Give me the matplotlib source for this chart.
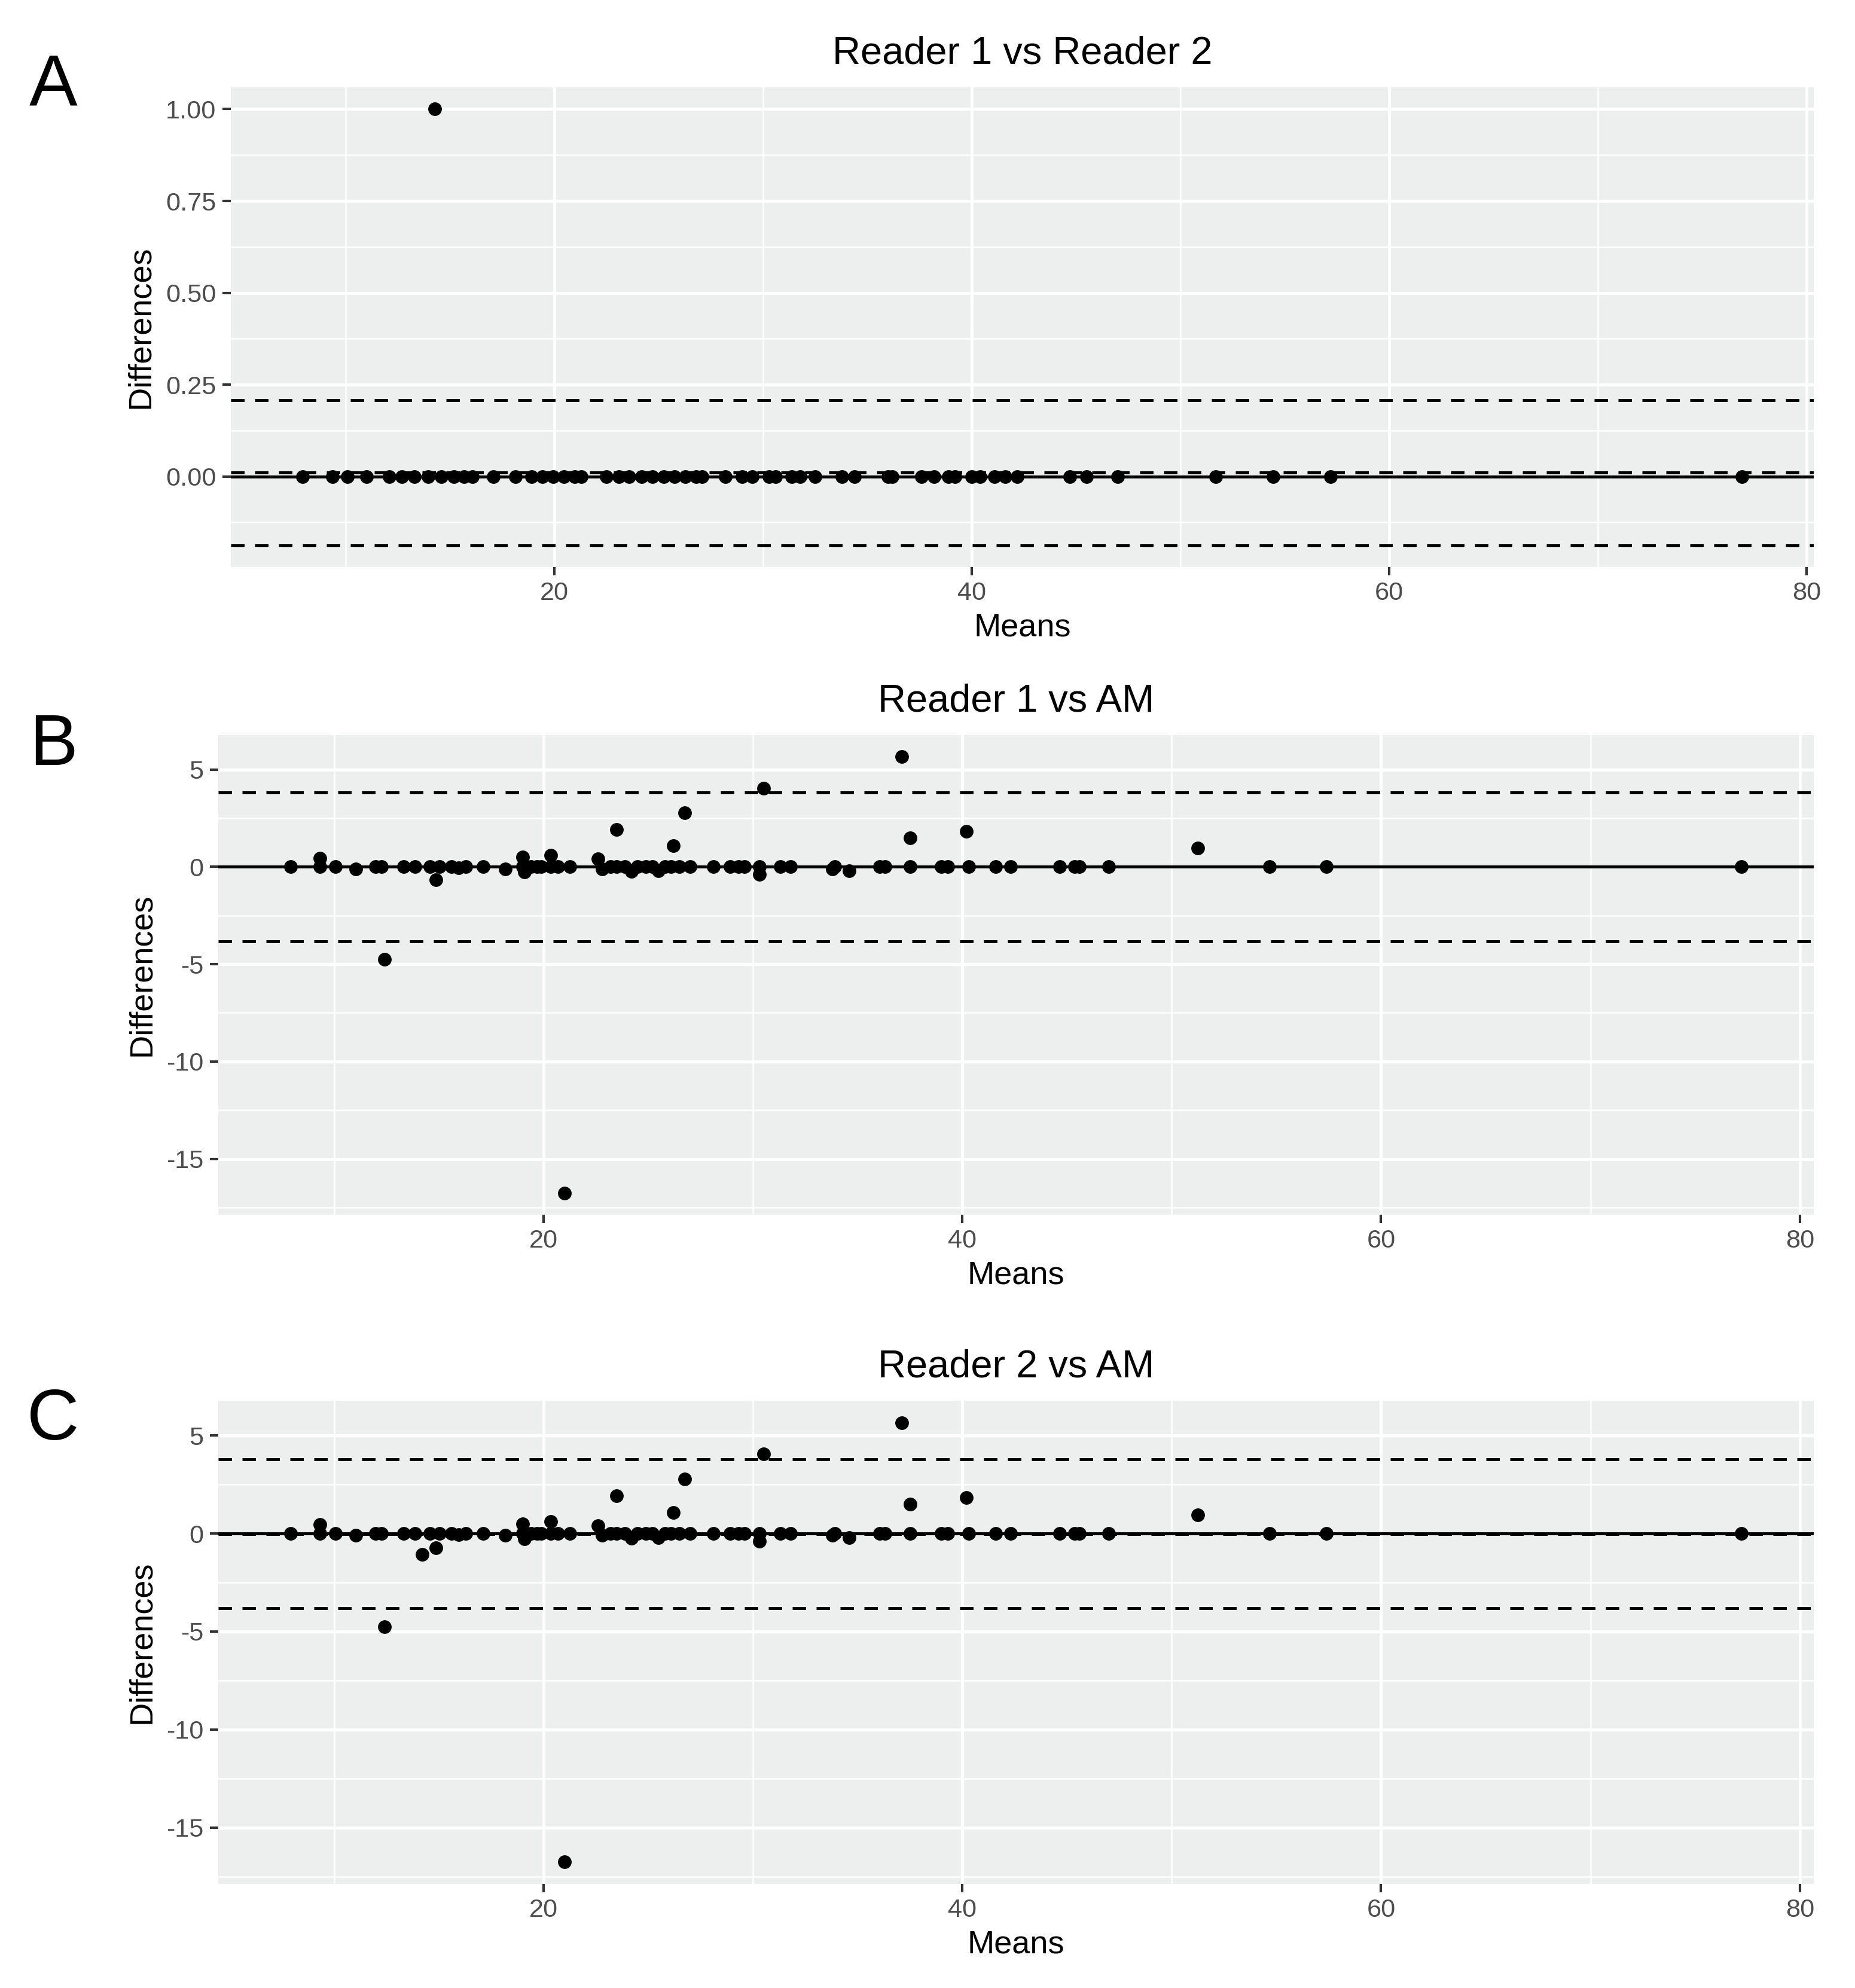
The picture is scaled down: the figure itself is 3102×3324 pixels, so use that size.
import matplotlib
matplotlib.use('Agg')
import matplotlib.pyplot as plt
from matplotlib.ticker import FixedLocator, FormatStrFormatter

plt.rcParams['font.family'] = ['Liberation Sans', 'DejaVu Sans']
plt.rcParams['axes.unicode_minus'] = False

# panel A: Reader 1 vs Reader 2
means_a = [7.96, 9.39, 10.1, 11.03, 12.1, 12.7, 13.3, 13.96, 14.28, 14.6, 15.2, 15.7,
           16.1, 17.1, 18.16, 18.93, 19.44, 19.95, 20.47, 20.98, 21.29, 22.5, 23.1,
           23.6, 24.2, 24.7, 25.25, 25.77, 26.3, 26.8, 27.1, 28.2, 29.0, 29.5, 30.3,
           30.6, 31.4, 31.8, 32.5, 33.8, 34.4, 36.0, 36.2, 37.6, 38.2, 38.9, 39.2,
           40.0, 40.4, 41.1, 41.6, 42.2, 44.7, 45.5, 47.0, 51.7, 54.45, 57.2, 76.9]
diffs_a = [0, 0, 0, 0, 0, 0, 0, 0, 1.0, 0, 0, 0,
           0, 0, 0, 0, 0, 0, 0, 0, 0, 0, 0,
           0, 0, 0, 0, 0, 0, 0, 0, 0, 0, 0, 0,
           0, 0, 0, 0, 0, 0, 0, 0, 0, 0, 0, 0,
           0, 0, 0, 0, 0, 0, 0, 0, 0, 0, 0, 0]
limits_a = [0.0103, 0.2075, -0.187]  # mean, upper, lower

# panel B: Reader 1 vs AM
means_b = [7.93, 9.32, 9.32, 10.06, 11.04, 11.98, 12.26, 12.4, 13.33, 13.85, 14.58,
           14.86, 15.03, 15.6, 15.95, 16.28, 17.13, 18.18, 18.99, 18.99, 19.1, 19.4,
           19.7, 19.9, 20.35, 20.35, 20.7, 21.0, 21.26, 22.6, 22.8, 23.2, 23.5, 23.5,
           23.9, 24.2, 24.5, 24.9, 25.2, 25.5, 25.8, 26.1, 26.2, 26.5, 26.75, 27.0,
           28.1, 28.9, 29.3, 29.6, 30.3, 30.3, 30.5, 31.3, 31.8, 33.8, 33.9, 34.6,
           36.05, 36.3, 37.1, 37.5, 37.5, 39.0, 39.3, 40.2, 40.3, 41.6, 42.3, 44.65,
           45.35, 45.6, 47.0, 51.26, 54.66, 57.4, 77.2]
diffs_b = [0, 0, 0.45, 0, -0.1, 0, 0, -4.75, 0, 0, 0,
           -0.68, 0, 0, -0.05, 0, 0, -0.1, 0.5, 0, -0.28, 0,
           0, 0, 0.6, 0, 0, -16.75, 0, 0.4, -0.1, 0, 1.93, 0,
           0, -0.25, 0, 0, 0, -0.2, 0, 0, 1.08, 0, 2.77, 0,
           0, 0, 0, 0, 0, -0.4, 4.05, 0, 0, -0.1, 0, -0.2,
           0, 0, 5.65, 1.5, 0, 0, 0, 1.83, 0, 0, 0, 0,
           0, 0, 0, 0.95, 0, 0, 0]
limits_b = [0.0, 3.82, -3.82]

# panel C: Reader 2 vs AM
means_c = [7.93, 9.32, 9.32, 10.06, 11.04, 11.98, 12.26, 12.4, 13.33, 13.85, 14.2,
           14.58, 14.86, 15.03, 15.6, 15.95, 16.28, 17.13, 18.18, 18.99, 18.99, 19.1,
           19.4, 19.7, 19.9, 20.35, 20.35, 20.7, 21.0, 21.26, 22.6, 22.8, 23.2, 23.5,
           23.5, 23.9, 24.2, 24.5, 24.9, 25.2, 25.5, 25.8, 26.1, 26.2, 26.5, 26.75,
           27.0, 28.1, 28.9, 29.3, 29.6, 30.3, 30.3, 30.5, 31.3, 31.8, 33.8, 33.9,
           34.6, 36.05, 36.3, 37.1, 37.5, 37.5, 39.0, 39.3, 40.2, 40.3, 41.6, 42.3,
           44.65, 45.35, 45.6, 47.0, 51.26, 54.66, 57.4, 77.2]
diffs_c = [0, 0, 0.45, 0, -0.1, 0, 0, -4.75, 0, 0, -1.08,
           0, -0.72, 0, 0, -0.05, 0, 0, -0.1, 0.5, 0, -0.28,
           0, 0, 0, 0.6, 0, 0, -16.75, 0, 0.4, -0.1, 0, 1.93,
           0, 0, -0.25, 0, 0, 0, -0.2, 0, 0, 1.08, 0, 2.77,
           0, 0, 0, 0, 0, 0, -0.4, 4.05, 0, 0, -0.1, 0,
           -0.2, 0, 0, 5.65, 1.5, 0, 0, 0, 1.83, 0, 0, 0,
           0, 0, 0, 0, 0.95, 0, 0, 0]
limits_c = [-0.02, 3.78, -3.82]

x_major = [20, 40, 60, 80]
x_minor = [10, 30, 50, 70]

panels = [
    ('A', 'Reader 1 vs Reader 2', means_a, diffs_a, limits_a,
     [0.0, 0.25, 0.5, 0.75, 1.0], [-0.125, 0.125, 0.375, 0.625, 0.875], '%.2f',
     [386 / 3102, 1 - 948 / 3324, (3033 - 386) / 3102, (948 - 146) / 3324], 1 - 144 / 3324),
    ('B', 'Reader 1 vs AM', means_b, diffs_b, limits_b,
     [-15, -10, -5, 0, 5], [-17.5, -12.5, -7.5, -2.5, 2.5], '%d',
     [365 / 3102, 1 - 2031 / 3324, (3033 - 365) / 3102, (2031 - 1229) / 3324], 1 - 1248 / 3324),
    ('C', 'Reader 2 vs AM', means_c, diffs_c, limits_c,
     [-15, -10, -5, 0, 5], [-17.5, -12.5, -7.5, -2.5, 2.5], '%d',
     [365 / 3102, 1 - 3150 / 3324, (3033 - 365) / 3102, (3150 - 2342) / 3324], 1 - 2376 / 3324),
]

fig = plt.figure(figsize=(3102 / 300, 3324 / 300), dpi=300)
bg = '#EDEFEF'
for letter, title, xs, ys, limits, yticks, yminor, fmt, rect, letter_y in panels:
    ax = fig.add_axes(rect)
    ax.set_facecolor(bg)
    for s in ax.spines.values():
        s.set_visible(False)
    ax.scatter(xs, ys, s=30, color='black', linewidths=0, zorder=4)
    ax.axhline(0, color='black', lw=1.2, zorder=3)
    for v in limits:
        ax.axhline(v, color='black', lw=1.2, ls=(0, (4.5, 3.5)), zorder=3)
    ax.margins(x=0.05, y=0.05)
    ax.xaxis.set_major_locator(FixedLocator(x_major))
    ax.xaxis.set_minor_locator(FixedLocator(x_minor))
    ax.yaxis.set_major_locator(FixedLocator(yticks))
    ax.yaxis.set_minor_locator(FixedLocator(yminor))
    ax.yaxis.set_major_formatter(FormatStrFormatter(fmt))
    ax.grid(which='major', color='white', lw=1.25, zorder=0)
    ax.grid(which='minor', color='white', lw=0.6, zorder=0)
    ax.set_axisbelow(True)
    ax.tick_params(which='major', length=3.25, width=1.0, color='#333333',
                   labelsize=10.4, labelcolor='#4D4D4D', pad=2.6)
    ax.tick_params(which='minor', length=0)
    ax.set_title(title, fontsize=15.6, pad=9.5)
    ax.set_xlabel('Means', fontsize=13, labelpad=3)
    ax.set_ylabel('Differences', fontsize=13, labelpad=4)
    fig.text(89 / 3102, letter_y, letter, fontsize=29, ha='center', va='center')

fig.savefig('out.png', dpi=300)
